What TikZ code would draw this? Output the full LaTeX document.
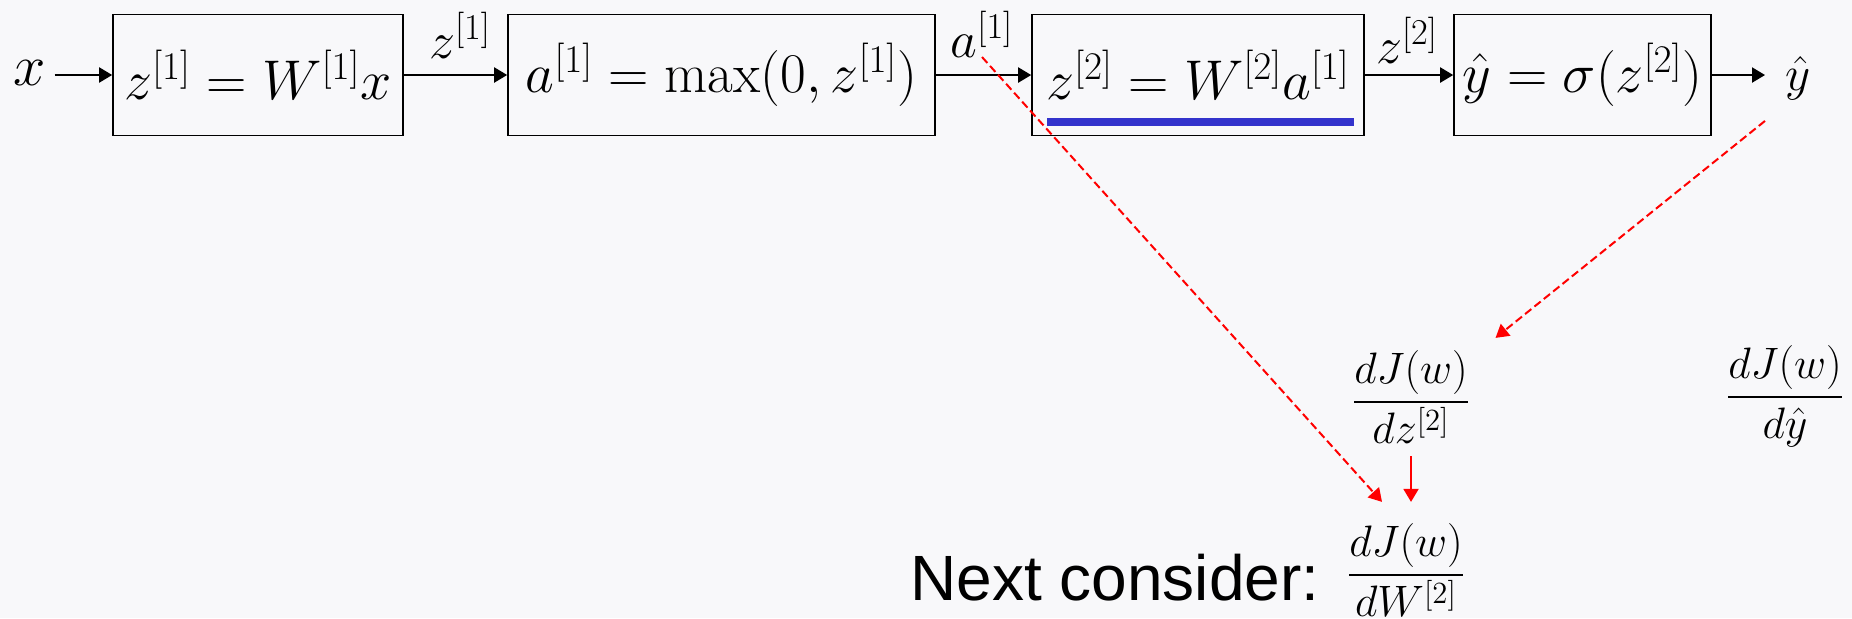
\RequirePackage{fix-cm}
\documentclass[tikz,border=0pt]{standalone}
\usepackage{amsmath}
\usepackage{fontspec}
\newfontfamily\slidefont{Liberation Sans}
\usepackage{tikz}
\usetikzlibrary{arrows.meta, positioning}
\definecolor{slidebg}{HTML}{F8F8FA}
\definecolor{markblue}{HTML}{3333CC}

\begin{document}
\begin{tikzpicture}[x=0.5pt, y=-0.5pt, >={Triangle[length=6.5pt, width=7.5pt]},
  blockbox/.style={draw, line width=0.8pt, minimum height=60.5pt, inner sep=0pt,
    font=\fontsize{28}{34}\selectfont},
  sig/.style={anchor=base, inner sep=2pt, font=\fontsize{26}{31}\selectfont},
  deriv/.style={anchor=base, inner sep=6pt, font=\fontsize{22}{26}\selectfont},
  flow/.style={->, line width=1pt},
  grad/.style={->, red, line width=1pt}]
  % slide background
  \fill[slidebg] (0,0) rectangle (1852,618);
  \useasboundingbox (0,0) rectangle (1852,618);

  % forward chain
  \node[sig, inner xsep=4pt, font=\fontsize{29}{34}\selectfont] (xin) at (30,85) {$x$};
  \node[blockbox, minimum width=145pt] (lin1) at (258,75) {$z^{[1]} = W^{[1]}x$};
  \node[blockbox, minimum width=213.5pt] (act1) at (721.5,75)
    {$a^{[1]} = \max(0, z^{[1]})$};
  \node[blockbox, minimum width=166pt] (lin2) at (1198,75)
    {$z^{[2]} = W^{[2]}a^{[1]}$};
  \node[blockbox, minimum width=128.5pt] (act2) at (1582.5,75)
    {$\hat{y} = \sigma(z^{[2]})$};
  \node[sig, inner xsep=10pt, font=\fontsize{24.5}{29}\selectfont] (yout) at (1798,90)
    {$\hat{y}$};

  \draw[flow] (lin1.west -| xin.east) -- (lin1.west);
  \draw[flow] (lin1) -- (act1);
  \draw[flow] (act1) -- (lin2);
  \draw[flow] (lin2) -- (act2);
  \draw[flow] (act2.east) -- (act2.east -| yout.west);

  % signals between blocks
  \node[sig] (lz1) at (460,58) {$z^{[1]}$};
  \node[sig] (la1) at (982,57) {$a^{[1]}$};
  \node[sig] (lz2) at (1407,63) {$z^{[2]}$};

  % underline the second linear step
  \draw[markblue, line width=4pt] ([shift={(8pt,7pt)}]lin2.south west)
    -- ([shift={(-5.5pt,7pt)}]lin2.south east);

  % derivatives
  \node[deriv] (dz) at (1411,413) {$\dfrac{dJ(w)}{dz^{[2]}}$};
  \node[deriv] (dy) at (1785,408) {$\dfrac{dJ(w)}{d\hat{y}}$};
  \node[deriv, inner ysep=10.5pt] (dW) at (1406,586) {$\dfrac{dJ(w)}{dW^{[2]}}$};
  \node[anchor=base west, inner sep=0pt,
    font=\fontsize{32}{38}\selectfont\slidefont] (next) at (910,600)
    {Next consider:};

  \draw[grad, dash pattern=on 4pt off 2pt] ([shift={(-16.5pt,-8.5pt)}]yout.south)
    -- ([xshift=6.5pt]dz.north east);
  \draw[grad, dash pattern=on 4pt off 2pt] (la1.base)
    -- ([xshift=-12pt]dW.north);
  \draw[grad] (dz.south) -- (dz.south |- dW.north);
\end{tikzpicture}
\end{document}
